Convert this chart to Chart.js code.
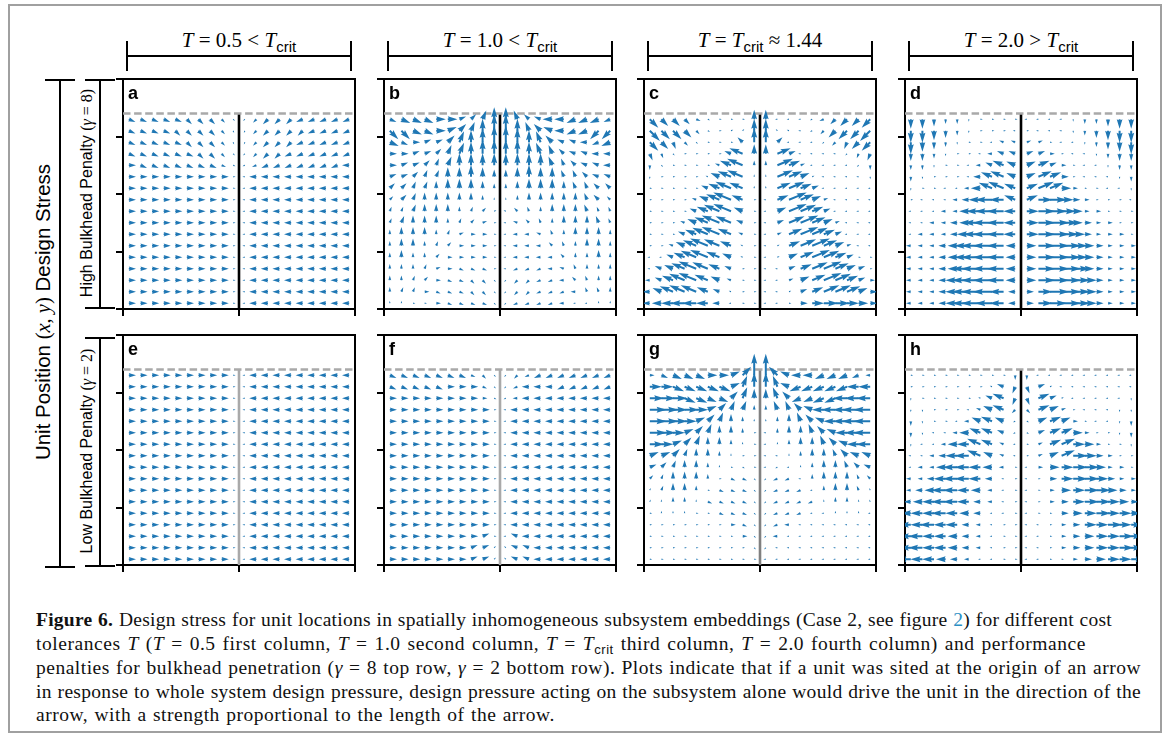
<!DOCTYPE html>
<html>
<head>
<meta charset="utf-8">
<script src="https://cdn.jsdelivr.net/npm/chart.js@4.4.1/dist/chart.umd.min.js"></script>
<style>
  body { margin: 0; background: #fff; }
  #fig { position: relative; width: 1171px; height: 740px; overflow: hidden; background: #fff; }
  #frame { position: absolute; left: 8px; top: 4px; width: 1150px; height: 725px; border: 2px solid #a0a0a0; }
  .hl { position: absolute; height: 2px; background: #000; }
  .vl { position: absolute; width: 2px; background: #000; }
  .ttl { position: absolute; top: 27px; width: 232px; text-align: center; font: 21px "Liberation Serif", serif; line-height: 26px; white-space: nowrap; }
  .sub { font: 15px "Liberation Sans", sans-serif; position: relative; top: 5px; }
  .rot { position: absolute; transform: rotate(-90deg); text-align: center; white-space: nowrap; font-family: "Liberation Sans", sans-serif; }
  .mth { font-family: "Liberation Serif", serif; }
  .pl { position: absolute; font: bold 18px "Liberation Sans", sans-serif; line-height: 20px; }
  canvas { position: absolute; }
  .cap { position: absolute; left: 36px; font: 19.5px "Liberation Serif", serif; line-height: 24px; color: #111;
         text-align: justify; text-align-last: justify; }
  .cap.last { text-align: left; text-align-last: left; white-space: nowrap; }
  .cap .lk { color: #2b8fc4; }
  .cap .cs { font: 13px "Liberation Sans", sans-serif; position: relative; top: 4px; }
</style>
</head>
<body>
<div id="fig">
  <div id="frame"></div>

  <div class="ttl" style="left:123px"><i>T</i> = 0.5 &lt; <i>T</i><span class="sub">crit</span></div>
  <div class="ttl" style="left:384px"><i>T</i> = 1.0 &lt; <i>T</i><span class="sub">crit</span></div>
  <div class="ttl" style="left:644px"><i>T</i> = <i>T</i><span class="sub">crit</span> &asymp; 1.44</div>
  <div class="ttl" style="left:905px"><i>T</i> = 2.0 &gt; <i>T</i><span class="sub">crit</span></div>

  <div class="rot" style="left:-167px; top:298px; width:420px; height:28px; line-height:28px; font-size:20.5px;">Unit Position <span class="mth">(<i>x</i>, <i>y</i>)</span> Design Stress</div>
  <div class="rot" style="left:-23px; top:183px; width:220px; height:20px; line-height:20px; font-size:16px;">High Bulkhead Penalty <span class="mth">(<i>&gamma;</i> = 8)</span></div>
  <div class="rot" style="left:-23px; top:441px; width:220px; height:20px; line-height:20px; font-size:16px;">Low Bulkhead Penalty <span class="mth">(<i>&gamma;</i> = 2)</span></div>

  <div class="cap" style="top:608px; width:1076px; letter-spacing:0.25px"><b>Figure 6.</b> Design stress for unit locations in spatially inhomogeneous subsystem embeddings (Case 2, see figure <span class="lk">2</span>) for different cost</div>
  <div class="cap" style="top:632px; width:1050px; letter-spacing:0.55px">tolerances <i>T</i> (<i>T</i> = 0.5 first column, <i>T</i> = 1.0 second column, <i>T</i> = <i>T</i><span class="cs">crit</span> third column, <i>T</i> = 2.0 fourth column) and performance</div>
  <div class="cap" style="top:656px; width:1105px; letter-spacing:0.5px">penalties for bulkhead penetration (<i>&gamma;</i> = 8 top row, <i>&gamma;</i> = 2 bottom row). Plots indicate that if a unit was sited at the origin of an arrow</div>
  <div class="cap" style="top:680px; width:1105px; letter-spacing:0.3px">in response to whole system design pressure, design pressure acting on the subsystem alone would drive the unit in the direction of the</div>
  <div class="cap last" style="top:703px; letter-spacing:0.5px; word-spacing:1px">arrow, with a strength proportional to the length of the arrow.</div>
</div>

<script>
// grid of the quiver plots (data units: x in [-1, 1], y in [0, 2])
const xCols = [-0.95, -0.85, -0.75, -0.65, -0.55, -0.45, -0.35, -0.25, -0.15, -0.05,
               0.05, 0.15, 0.25, 0.35, 0.45, 0.55, 0.65, 0.75, 0.85, 0.95];
const yRows = [1.65, 1.55, 1.45, 1.35, 1.25, 1.15, 1.05, 0.95, 0.85, 0.75,
               0.65, 0.55, 0.45, 0.35, 0.25, 0.15, 0.05];
const xLimits = [-1, 1];
const yLimits = [0, 2];
const xTicks = [-1, 0, 1];
const yTicks = [0, 0.5, 1, 1.5, 2];
const boundaryY = 1.7;   // dashed grey line
const bulkheadX = 0;     // vertical bulkhead

// arrows: one token per grid point, top row first.
// first char = direction (hex, in 22.5 deg steps, 0 = east, 4 = north, 8 = west, c = south)
// second char = arrow length
const fieldA = [
  "f3 f3 f3 f3 f3 e3 e3 e3 e2 e1 a1 a2 a3 a3 a3 93 93 93 93 93",
  "f3 f3 f3 f3 e3 e3 e3 e3 e2 d1 b1 a2 a3 a3 a3 a3 93 93 93 93",
  "f3 f3 f3 f3 f3 e3 e3 e3 e2 d1 b1 a2 a3 a3 a3 93 93 93 93 93",
  "f3 f3 f3 f3 f3 f3 e3 e3 e2 e1 a1 a2 a3 a3 93 93 93 93 93 93",
  "03 f3 f3 f3 f3 f3 f3 f3 f2 f1 91 92 93 93 93 93 93 93 93 83",
  "03 03 03 03 03 03 03 03 03 01 81 83 83 83 83 83 83 83 83 83",
  "03 03 03 03 03 03 03 03 03 01 81 83 83 83 83 83 83 83 83 83",
  "03 03 03 03 03 03 03 03 03 01 81 83 83 83 83 83 83 83 83 83",
  "03 03 03 03 03 03 03 03 03 01 81 83 83 83 83 83 83 83 83 83",
  "03 03 03 03 03 03 03 03 03 01 81 83 83 83 83 83 83 83 83 83",
  "03 03 03 03 03 03 03 03 03 01 81 83 83 83 83 83 83 83 83 83",
  "03 03 03 03 03 03 03 03 03 01 81 83 83 83 83 83 83 83 83 83",
  "03 03 03 03 03 03 03 03 03 01 81 83 83 83 83 83 83 83 83 83",
  "03 03 03 03 03 03 03 03 03 01 81 83 83 83 83 83 83 83 83 83",
  "03 03 03 03 03 03 03 03 03 01 81 83 83 83 83 83 83 83 83 83",
  "03 03 03 03 03 03 03 03 03 01 81 83 83 83 83 83 83 83 83 83",
  "03 03 03 03 03 03 03 03 03 01 81 83 83 83 83 83 83 83 83 83"
];
const fieldB = [
  "f3 f4 f4 f4 04 04 13 23 34 45 45 54 63 73 84 84 94 94 94 93",
  "e5 e5 f4 f4 04 14 24 34 45 47 47 45 54 64 74 84 94 94 a5 a5",
  "f4 f3 03 13 13 24 35 45 46 47 47 46 45 55 64 73 73 83 93 94",
  "03 03 13 13 23 34 35 45 46 46 46 46 45 55 54 63 73 73 83 83",
  "03 13 13 23 33 34 45 45 45 45 45 45 45 45 54 53 63 73 73 83",
  "13 13 23 33 33 44 44 45 44 43 43 44 45 44 44 53 53 63 73 73",
  "23 23 33 33 43 44 44 44 43 42 42 43 44 44 44 43 53 53 63 63",
  "22 23 33 43 43 43 43 43 42 41 41 42 43 43 43 43 43 53 63 62",
  "32 32 33 43 43 43 42 32 22 11 71 62 52 42 43 43 43 53 52 52",
  "32 33 43 43 43 42 32 22 12 01 81 72 62 52 42 43 43 43 53 52",
  "42 43 43 43 42 32 12 02 02 01 81 82 82 72 52 42 43 43 43 42",
  "42 43 43 42 32 22 02 02 02 01 81 82 82 82 62 52 42 43 43 42",
  "42 43 42 42 22 02 02 02 02 01 81 82 82 82 82 62 42 42 43 42",
  "42 42 42 32 12 02 f2 f2 f2 01 81 92 92 92 82 72 52 42 42 42",
  "42 42 32 22 02 f2 f2 e2 e2 e1 a1 a2 a2 92 92 82 62 52 42 42",
  "42 32 32 02 f2 f2 f2 e2 e2 e1 a1 a2 a2 92 92 92 82 52 52 42",
  "41 41 01 01 02 f2 f2 f2 f2 e1 a1 92 92 92 92 82 81 81 41 41"
];
const fieldC = [
  "e5 e4 e4 e3 f2 f1 01 01 01 44 44 81 81 81 91 92 a3 a4 a4 a5",
  "e6 e5 e5 e4 e2 f1 01 11 21 45 45 61 71 81 91 a2 a4 a5 a5 a6",
  "e5 e4 d3 e2 e1 01 01 01 63 46 46 23 81 81 81 a1 a2 b3 a4 a5",
  "d3 d2 e1 01 01 01 01 73 76 44 44 16 13 81 81 81 81 a1 b2 b3",
  "c2 e1 01 01 01 01 72 75 77 42 42 17 15 12 81 81 81 81 a1 c2",
  "c1 01 01 01 01 71 74 76 77 41 41 17 16 14 11 81 81 81 81 c1",
  "01 01 01 01 01 73 75 77 76 41 41 16 17 15 13 81 81 81 81 81",
  "01 01 01 01 72 74 76 78 75 01 81 15 18 16 14 12 81 81 81 81",
  "01 01 01 01 73 75 77 78 74 01 81 14 18 17 15 13 81 81 81 81",
  "01 01 01 72 74 76 78 77 73 01 81 13 17 18 16 14 12 81 81 81",
  "01 01 01 73 75 77 78 76 72 01 81 12 16 18 17 15 13 81 81 81",
  "01 01 72 74 76 78 77 75 71 01 81 11 15 17 18 16 14 12 81 81",
  "81 81 73 75 77 78 76 74 71 01 81 11 14 16 18 17 15 13 01 01",
  "81 73 74 76 78 77 75 73 01 01 81 81 13 15 17 18 16 14 13 01",
  "82 73 75 77 78 76 74 72 01 01 81 81 12 14 16 18 17 15 13 02",
  "83 74 76 77 77 75 73 71 01 01 81 81 11 13 15 17 17 16 14 03",
  "83 84 85 86 86 85 83 81 01 01 81 81 01 03 05 06 06 05 04 03"
];
const fieldD = [
  "c4 c4 c3 c2 c2 c1 01 01 01 01 81 81 81 81 c1 c2 c2 c3 c4 c4",
  "c5 c5 c4 c3 c2 c1 01 01 01 81 01 81 81 81 c1 c2 c3 c4 c5 c5",
  "c5 c4 c3 c2 c1 01 01 81 72 72 12 12 01 81 81 c1 c2 c3 c4 c5",
  "c3 c3 c2 c1 01 01 81 82 73 73 13 13 02 01 81 81 c1 c2 c3 c3",
  "c2 c2 c1 01 01 81 82 73 75 74 14 15 13 02 01 81 81 c1 c2 c2",
  "c2 c1 01 01 01 81 83 75 76 74 14 16 15 03 01 81 81 81 c1 c2",
  "c1 01 01 81 81 82 84 76 77 75 15 17 16 04 02 01 01 81 81 c1",
  "01 81 81 81 82 83 85 87 86 75 15 06 07 05 03 02 01 01 01 81",
  "81 81 81 82 82 84 86 87 87 85 05 07 07 06 04 02 02 01 01 01",
  "81 81 82 82 83 84 87 88 87 85 05 07 08 07 04 03 02 02 01 01",
  "81 82 82 82 83 85 87 88 87 85 05 07 08 07 05 03 02 02 02 01",
  "82 82 82 83 84 86 88 88 87 84 04 07 08 08 06 04 03 02 02 02",
  "82 82 82 83 84 86 88 88 87 84 04 07 08 08 06 04 03 02 02 02",
  "82 82 82 83 84 87 88 88 87 84 04 07 08 08 07 04 03 02 02 02",
  "82 82 82 83 85 87 88 88 87 84 04 07 08 08 07 05 03 02 02 02",
  "82 82 82 83 85 87 88 88 86 83 03 06 08 08 07 05 03 02 02 02",
  "82 82 82 83 85 87 88 87 86 83 03 06 07 08 07 05 03 02 02 02"
];
const fieldE = [
  "03 03 03 03 03 03 03 03 03 01 81 83 83 83 83 83 83 83 83 83",
  "03 03 03 03 03 03 03 03 03 01 81 83 83 83 83 83 83 83 83 83",
  "03 03 03 03 03 03 03 03 03 01 81 83 83 83 83 83 83 83 83 83",
  "03 03 03 03 03 03 03 03 03 01 81 83 83 83 83 83 83 83 83 83",
  "03 03 03 03 03 03 03 03 03 01 81 83 83 83 83 83 83 83 83 83",
  "03 03 03 03 03 03 03 03 03 01 81 83 83 83 83 83 83 83 83 83",
  "03 03 03 03 03 03 03 03 03 01 81 83 83 83 83 83 83 83 83 83",
  "03 03 03 03 03 03 03 03 03 01 81 83 83 83 83 83 83 83 83 83",
  "03 03 03 03 03 03 03 03 03 01 81 83 83 83 83 83 83 83 83 83",
  "03 03 03 03 03 03 03 03 03 01 81 83 83 83 83 83 83 83 83 83",
  "03 03 03 03 03 03 03 03 03 01 81 83 83 83 83 83 83 83 83 83",
  "03 03 03 03 03 03 03 03 03 01 81 83 83 83 83 83 83 83 83 83",
  "03 03 03 03 03 03 03 03 03 01 81 83 83 83 83 83 83 83 83 83",
  "03 03 03 03 03 03 03 03 03 01 81 83 83 83 83 83 83 83 83 83",
  "03 03 03 03 03 03 03 03 03 01 81 83 83 83 83 83 83 83 83 83",
  "03 03 03 03 03 03 03 03 03 01 81 83 83 83 83 83 83 83 83 83",
  "03 03 03 03 03 03 03 03 03 01 81 83 83 83 83 83 83 83 83 83"
];
const fieldF = [
  "f3 f3 f3 f3 f3 f3 f3 f2 e2 e1 a1 a2 92 93 93 93 93 93 93 93",
  "f3 f3 f3 f3 f3 03 03 03 f2 e1 a1 92 83 83 83 93 93 93 93 93",
  "03 03 03 03 03 03 03 03 02 f1 91 82 83 83 83 83 83 83 83 83",
  "03 03 03 03 03 03 03 03 03 01 81 83 83 83 83 83 83 83 83 83",
  "03 03 03 03 03 03 03 03 03 01 81 83 83 83 83 83 83 83 83 83",
  "03 03 03 03 03 03 03 03 03 01 81 83 83 83 83 83 83 83 83 83",
  "03 03 03 03 03 03 03 03 03 01 81 83 83 83 83 83 83 83 83 83",
  "03 03 03 03 03 03 03 03 03 01 81 83 83 83 83 83 83 83 83 83",
  "03 03 03 03 03 03 03 03 03 01 81 83 83 83 83 83 83 83 83 83",
  "03 03 03 03 03 03 03 03 03 01 81 83 83 83 83 83 83 83 83 83",
  "03 03 03 03 03 03 03 03 03 01 81 83 83 83 83 83 83 83 83 83",
  "03 03 03 03 03 03 03 03 03 01 81 83 83 83 83 83 83 83 83 83",
  "03 03 03 03 03 03 03 03 03 01 81 83 83 83 83 83 83 83 83 83",
  "03 03 03 03 03 03 03 03 03 01 81 83 83 83 83 83 83 83 83 83",
  "03 03 03 03 03 03 03 03 13 01 81 73 83 83 83 83 83 83 83 83",
  "03 03 03 03 03 03 03 13 13 21 61 73 73 83 83 83 83 83 83 83",
  "03 03 03 03 03 03 03 13 13 21 61 73 73 83 83 83 83 83 83 83"
];
const fieldG = [
  "02 f3 f4 f4 f4 04 04 14 25 49 49 65 74 84 84 94 94 94 93 82",
  "05 05 f5 f5 f5 f5 f5 14 35 46 46 55 74 95 95 95 95 95 85 85",
  "06 06 06 f5 f5 f4 f4 24 35 44 44 55 64 94 94 95 95 86 86 86",
  "07 07 06 06 05 14 24 34 34 42 42 54 54 64 74 85 86 86 87 87",
  "07 07 06 05 14 24 34 43 42 41 41 42 43 54 64 74 85 86 87 87",
  "07 06 05 14 24 34 43 43 42 01 81 42 43 43 54 64 74 85 86 87",
  "06 05 14 24 34 43 43 42 41 01 81 41 42 43 43 54 64 74 85 86",
  "14 14 24 33 43 43 42 41 01 01 81 81 41 42 43 43 53 64 74 74",
  "13 23 33 43 43 42 41 01 f1 01 81 91 81 41 42 43 43 53 63 73",
  "22 32 43 43 43 42 01 f2 f2 e1 a1 92 92 81 42 43 43 43 52 62",
  "31 32 43 43 42 01 f2 f2 f2 e1 a1 92 92 92 81 42 43 43 52 51",
  "31 41 42 42 41 f2 f2 f2 f2 e1 a1 92 92 92 92 41 42 42 41 51",
  "01 41 41 41 01 01 f2 f2 f2 e1 a1 92 92 92 81 81 41 41 41 81",
  "01 01 01 01 01 01 01 02 f2 e1 a1 92 82 81 81 81 81 81 81 81",
  "01 01 01 01 01 01 01 01 02 e1 a1 82 81 81 81 81 81 81 81 81",
  "01 01 01 01 01 01 01 01 01 e1 a1 81 81 81 81 81 81 81 81 81",
  "01 01 01 01 01 01 01 01 01 01 81 81 81 81 81 81 81 81 81 81"
];
const fieldH = [
  "01 01 01 01 01 01 01 01 01 c2 c2 81 81 81 81 81 81 81 81 81",
  "01 01 01 01 01 01 01 71 73 b3 d3 13 11 81 81 81 81 81 81 81",
  "c1 01 01 01 01 01 71 73 75 b3 d3 15 13 11 81 81 81 81 81 c1",
  "c1 c1 01 01 01 81 72 74 75 a2 e2 15 14 12 01 81 81 81 c1 c1",
  "c2 c1 01 01 81 82 74 75 74 91 f1 14 15 14 02 01 81 81 c1 c2",
  "c2 c1 81 81 82 84 75 75 73 91 f1 13 15 15 04 02 01 01 c1 c2",
  "c1 81 81 82 84 85 76 75 72 81 01 12 15 16 05 04 02 01 01 c1",
  "81 81 82 83 85 86 76 74 72 81 01 12 14 16 06 05 03 02 01 01",
  "81 82 82 84 86 86 85 84 82 01 81 02 04 05 06 06 04 02 02 01",
  "82 82 83 85 86 86 85 83 81 01 81 01 03 05 06 06 05 03 02 02",
  "82 83 84 86 86 85 84 82 81 01 81 01 02 04 05 06 06 04 03 02",
  "83 84 85 86 86 85 83 82 81 01 81 01 02 03 05 06 06 05 04 03",
  "84 85 85 86 85 84 83 81 81 01 81 01 01 03 04 05 06 05 05 04",
  "85 85 86 85 85 83 82 81 01 01 81 81 01 02 03 05 05 06 05 05",
  "85 86 85 85 84 83 82 81 01 01 81 81 01 02 03 04 05 05 06 05",
  "85 86 85 85 84 83 82 81 01 01 81 81 01 02 03 04 05 05 06 05",
  "86 85 85 84 83 82 81 81 01 01 81 81 01 01 02 03 04 05 05 06"
];

const panelLetters = ['a', 'b', 'c', 'd', 'e', 'f', 'g', 'h'];
const panelFields = [fieldA, fieldB, fieldC, fieldD, fieldE, fieldF, fieldG, fieldH];
const bulkheadColors = ['#000', '#000', '#000', '#000', '#a9a9a9', '#a9a9a9', '#808080', '#000'];

const ARROW_COLOR = '#1f77b4';
const ARROW_PX = 2.4;      // pixels per length unit
const SHAFT_W = 2.0;       // shaft width in px

// layout of the axes boxes
const colLeft = [123, 384, 644, 905];
const rowTop = [79, 335];
const boxW = 232, boxH = 230;
const padL = 12, padB = 12, padT = 4, padR = 4;

function decodeField(rows) {
  const pts = [];
  rows.forEach((row, j) => {
    row.trim().split(/\s+/).forEach((tok, k) => {
      pts.push({ x: xCols[k], y: yRows[j], dir: parseInt(tok[0], 16), len: +tok[1] });
    });
  });
  return pts;
}

// matplotlib style quiver arrow, pivot at tail
function drawArrow(ctx, x, y, ang, lenPx) {
  const hl = 5, hw = 3, hal = 4.5;
  const L = lenPx / SHAFT_W;
  let X, Y;
  if (L >= hl) {
    X = [0, L - hal, L - hl, L];
    Y = [0.5, 0.5, hw / 2, 0];
  } else {
    const s = L / hl;
    X = [0, (hl - hal) * s, 0, hl * s];
    Y = [0.5 * s, 0.5 * s, hw / 2 * s, 0];
  }
  ctx.save();
  ctx.translate(x, y);
  ctx.rotate(-ang);
  ctx.scale(SHAFT_W, SHAFT_W);
  ctx.beginPath();
  ctx.moveTo(X[0], Y[0]);
  ctx.lineTo(X[1], Y[1]);
  ctx.lineTo(X[2], Y[2]);
  ctx.lineTo(X[3], 0);
  ctx.lineTo(X[2], -Y[2]);
  ctx.lineTo(X[1], -Y[1]);
  ctx.lineTo(X[0], -Y[0]);
  ctx.closePath();
  ctx.fill();
  ctx.restore();
}

const quiverPlugin = {
  id: 'quiver',
  afterDatasetsDraw(chart) {
    const ctx = chart.ctx, ca = chart.chartArea;
    chart.data.datasets.forEach((ds, i) => {
      if (!ds.quiver) return;
      const meta = chart.getDatasetMeta(i);
      ctx.save();
      ctx.beginPath();
      ctx.rect(ca.left, ca.top, ca.right - ca.left, ca.bottom - ca.top);
      ctx.clip();
      ctx.fillStyle = ARROW_COLOR;
      meta.data.forEach((el, j) => {
        const d = ds.data[j];
        drawArrow(ctx, el.x, el.y, d.dir * Math.PI / 8, d.len * ARROW_PX);
      });
      ctx.restore();
    });
  }
};

function axis(pos, lim, ticks, fit) {
  const main = pos === 'bottom' || pos === 'left';
  return {
    type: 'linear', position: pos, min: lim[0], max: lim[1],
    afterBuildTicks: s => { s.ticks = ticks.map(v => ({ value: v })); },
    afterFit: fit,
    ticks: { display: false },
    grid: { display: main, drawOnChartArea: false, drawTicks: main, tickLength: 7, tickWidth: 2, lineWidth: 2, color: '#000', tickColor: '#000' },
    border: { display: true, color: '#000', width: 2 }
  };
}

const fig = document.getElementById('fig');
panelFields.forEach((field, p) => {
  const c = p % 4, r = Math.floor(p / 4);
  const left = colLeft[c], top = rowTop[r];

  const cv = document.createElement('canvas');
  cv.width = boxW + padL + padR;
  cv.height = boxH + padT + padB;
  cv.style.left = (left - padL) + 'px';
  cv.style.top = (top - padT) + 'px';
  fig.appendChild(cv);

  const lab = document.createElement('div');
  lab.className = 'pl';
  lab.style.left = (left + 5) + 'px';
  lab.style.top = (top + 4) + 'px';
  lab.textContent = panelLetters[p];
  fig.appendChild(lab);

  new Chart(cv, {
    type: 'scatter',
    data: {
      datasets: [
        { data: decodeField(field), quiver: true, pointRadius: 0, pointHoverRadius: 0 },
        { type: 'line', data: [{ x: xLimits[0], y: boundaryY }, { x: xLimits[1], y: boundaryY }],
          borderColor: '#a9a9a9', borderWidth: 2.4, borderDash: [7.5, 3.6], pointRadius: 0, fill: false },
        { type: 'line', data: [{ x: bulkheadX, y: yLimits[0] }, { x: bulkheadX, y: boundaryY }],
          borderColor: bulkheadColors[p], borderWidth: 2.6, pointRadius: 0, fill: false }
      ]
    },
    options: {
      responsive: false, animation: false, devicePixelRatio: 1, events: [],
      layout: { padding: 0, autoPadding: false },
      plugins: { legend: { display: false }, tooltip: { enabled: false } },
      scales: {
        x: axis('bottom', xLimits, xTicks, s => { s.height = padB; }),
        y: axis('left', yLimits, yTicks, s => { s.width = padL; }),
        x2: axis('top', xLimits, xTicks, s => { s.height = padT; }),
        y2: axis('right', yLimits, yTicks, s => { s.width = padR; })
      }
    },
    plugins: [quiverPlugin]
  });
});

// brackets above the columns and beside the rows
function line(cls, l, t, len) {
  const d = document.createElement('div');
  d.className = cls;
  d.style.left = l + 'px';
  d.style.top = t + 'px';
  if (cls === 'hl') d.style.width = len + 'px'; else d.style.height = len + 'px';
  fig.appendChild(d);
}
colLeft.forEach(l => {
  line('hl', l + 3, 55, 226);
  line('vl', l + 3, 41, 30);
  line('vl', l + 227, 41, 30);
});
// outer bracket
line('vl', 59, 80, 488);
line('hl', 45, 79, 30);
line('hl', 45, 566, 30);
// row brackets
[[80, 308], [338, 566]].forEach(([a, b]) => {
  line('vl', 99, a, b - a);
  line('hl', 85, a - 1, 30);
  line('hl', 85, b - 1, 30);
});
</script>
</body>
</html>
